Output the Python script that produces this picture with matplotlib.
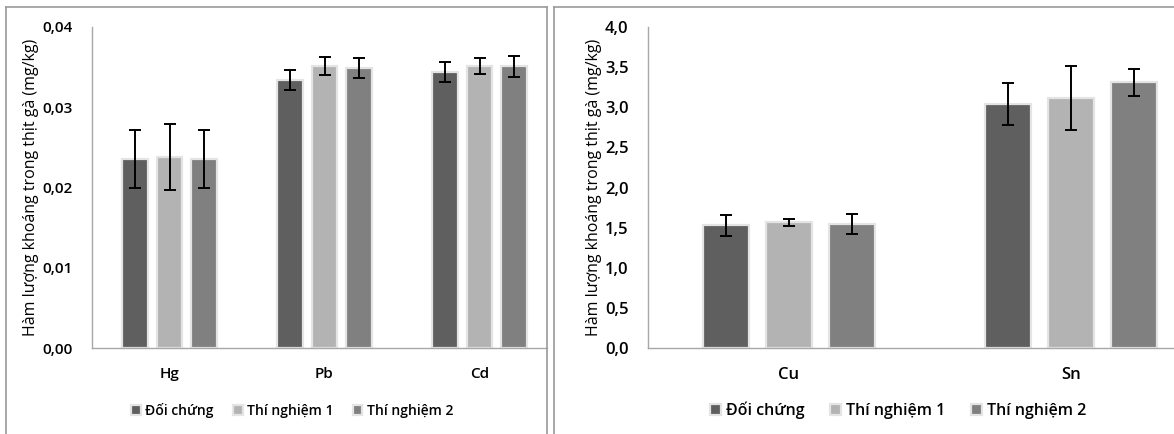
import matplotlib
matplotlib.use("Agg")
import matplotlib.pyplot as plt
from matplotlib.lines import Line2D
from matplotlib.ticker import FuncFormatter
import numpy as np

plt.rcParams['font.family'] = ['Open Sans', 'DejaVu Sans']
plt.rcParams['font.weight'] = 'semibold'

series = ["Đối chứng", "Thí nghiệm 1", "Thí nghiệm 2"]
colors = ["#5f5f5f", "#b3b3b3", "#808080"]
ylabel = "Hàm lượng khoáng trong thịt gà (mg/kg)"

# left chart: heavy metals
left_cats = ["Hg", "Pb", "Cd"]
left_vals = [[0.02355, 0.0334, 0.0344],
             [0.0238, 0.0351, 0.0351],
             [0.02355, 0.0349, 0.0351]]
left_err = [[0.0036, 0.0013, 0.0013],
            [0.0041, 0.0011, 0.0010],
            [0.0036, 0.0012, 0.0013]]

# right chart: Cu, Sn
right_cats = ["Cu", "Sn"]
right_vals = [[1.53, 3.04],
              [1.565, 3.115],
              [1.545, 3.31]]
right_err = [[0.13, 0.26],
             [0.045, 0.40],
             [0.13, 0.17]]

W, H = 1174, 434
fig = plt.figure(figsize=(W / 100, H / 100), dpi=100)


def px_axes(x0, x1, y0, y1):
    return fig.add_axes([x0 / W, 1 - y1 / H, (x1 - x0) / W, (y1 - y0) / H])


def draw(ax, cats, vals, errs, ymax, step, fmt, xr, fs_tick, fs_leg, leg_x, colsp):
    x = np.arange(len(cats))
    off = 0.224
    for i in range(3):
        ax.bar(x + (i - 1) * off, vals[i], width=0.165, color=colors[i],
               edgecolor="#e4e4e4", linewidth=1.6, label=series[i], zorder=2)
        ax.errorbar(x + (i - 1) * off, vals[i], yerr=errs[i], fmt="none",
                    ecolor="black", elinewidth=1.4, capsize=4, capthick=1.4, zorder=3)
    ax.set_xlim(-0.5, xr)
    ax.set_ylim(0, ymax)
    ax.set_yticks(np.arange(0, ymax + step / 2, step))
    ax.yaxis.set_major_formatter(FuncFormatter(lambda v, p: fmt.format(v).replace(".", ",")))
    ax.set_xticks(x)
    ax.set_xticklabels(cats)
    ax.tick_params(length=0, labelsize=fs_tick, colors="black")
    ax.tick_params(axis="y", pad=14)
    ax.tick_params(axis="x", pad=14)
    for s in ["top", "right"]:
        ax.spines[s].set_visible(False)
    for s in ["left", "bottom"]:
        ax.spines[s].set_color("#a8a8a8")
        ax.spines[s].set_linewidth(1.0)
    ax.set_ylabel(ylabel, fontsize=11.5, labelpad=2)
    ax.legend(loc="center", bbox_to_anchor=(leg_x / W, 1 - 410 / H),
              bbox_transform=fig.transFigure, ncol=3, frameon=False,
              fontsize=fs_leg, handlelength=0.7, handleheight=0.7,
              handletextpad=0.3, columnspacing=colsp)


ax1 = px_axes(92, 547, 27, 348)
draw(ax1, left_cats, left_vals, left_err, 0.04, 0.01, "{:.2f}",
     (547 - 92) / 155 - 0.5, 11, 10, 292, 1.4)

ax2 = px_axes(648, 1174, 27, 348)
draw(ax2, right_cats, right_vals, right_err, 4.0, 0.5, "{:.1f}",
     (1174 - 648) / 282 - 0.5, 12, 11.5, 898, 1.6)

# frames around the two pasted charts
fc = "#9a9a9a"
for xs, ys in [([6, 6], [434, 7]), ([6, 547], [7, 7]), ([547, 547], [7, 434]),
               ([554, 554], [434, 7]), ([554, 1174], [7, 7])]:
    fig.add_artist(Line2D([v / W for v in xs], [1 - v / H for v in ys],
                          color=fc, linewidth=1.2))

fig.savefig("out.png", dpi=100)
